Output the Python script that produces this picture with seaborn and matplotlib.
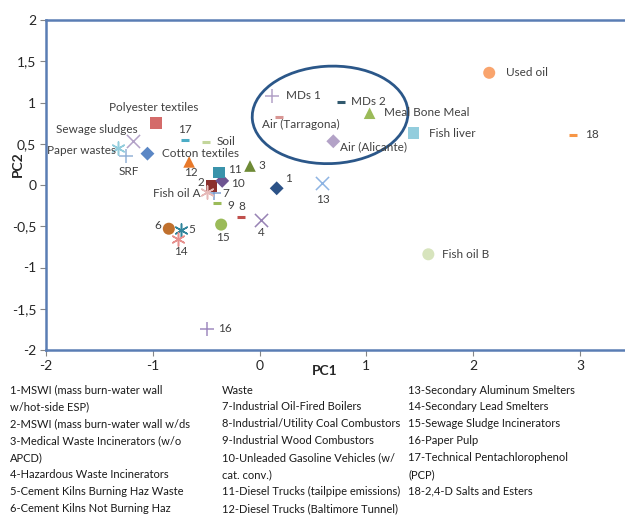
import matplotlib
matplotlib.use("Agg")
import matplotlib.pyplot as plt
from matplotlib.patches import Ellipse
from matplotlib.ticker import FuncFormatter, MultipleLocator
import seaborn as sns

sns.set_style("white")
plt.rcParams['font.family'] = ['Lato', 'DejaVu Sans']

# ---------------- data ----------------
names = ['Used oil', '18', 'Fish liver', 'Meal Bone Meal', 'MDs 2', 'MDs 1',
         'Air (Tarragona)', 'Air (Alicante)', 'Fish oil B', '13', '1', '4', '8',
         '15', '9', '7', '2', 'Fish oil A', '10', '11', '3', '12', 'Soil', '17',
         'Polyester textiles', 'Cotton textiles', 'SRF', 'Sewage sludges',
         'Paper wastes', '6', '5', '14', '16']
pc1 = [2.15, 2.93, 1.44, 1.03, 0.76, 0.12, 0.18, 0.69, 1.58, 0.58, 0.16, 0.01, -0.17,
       -0.36, -0.40, -0.43, -0.45, -0.49, -0.35, -0.38, -0.09, -0.66, -0.50, -0.70,
       -0.97, -1.05, -1.25, -1.19, -1.33, -0.85, -0.74, -0.76, -0.49]
pc2 = [1.36, 0.61, 0.63, 0.87, 1.01, 1.08, 0.82, 0.53, -0.84, 0.02, -0.04, -0.42, -0.39,
       -0.48, -0.22, -0.10, -0.01, -0.08, 0.05, 0.15, 0.23, 0.28, 0.52, 0.55,
       0.75, 0.38, 0.35, 0.53, 0.45, -0.53, -0.55, -0.65, -1.74]

ASTER = (6, 2, 0)
markers = ['o', '_', 's', '^', '_', '+', '_', 'D', 'o', 'x', 'D', 'x', '_',
           'o', '_', '+', 's', ASTER, 'D', 's', '^', '^', '_', '_',
           's', 'D', '+', 'x', ASTER, 'o', ASTER, ASTER, '+']
colors = ['#F9A46D', '#F79646', '#93CDDD', '#9BBB59', '#31596E', '#B3A2C7',
          '#D99694', '#B3A2C7', '#D7E4BD', '#8EB4E3', '#2C5287', '#9883B5', '#C0504D',
          '#9BBB59', '#9BBB59', '#7F9FD0', '#8B2F2D', '#E6B9B8', '#6E5491', '#3A93AB',
          '#6E8A36', '#E8792A', '#C3D69B', '#4BACC6',
          '#D46B6A', '#5B87C5', '#95B3D7', '#B3A2C7', '#93CDDD', '#C0702D', '#31859C',
          '#E6908E', '#A08CC0']

# label offsets (pixels) and alignment
label_dx = [17, 13, 16, 14, 10, 14, 22, 7, 14, 1, 8, 1, 0, 2, 10, 9, -7, -7, 9, 9, 8, 2,
            10, 0, -2, 15, 3, -36, -2, -8, 8, 2, 11]
label_dy = [0, 0, 0, 1, 0, 0, -7, -6, 0, -16, 10, -13, 11, -13, -2, 0, 3, -2, -3, 3,
            1, -11, 1, 10, 16, 0, -15, 12, -3, 3, 1, -13, 0]
label_ha = ['left', 'left', 'left', 'left', 'left', 'left', 'center', 'left', 'left',
            'center', 'left', 'center', 'center', 'center', 'left', 'left', 'right',
            'right', 'left', 'left', 'left', 'center', 'left', 'center', 'center',
            'left', 'center', 'center', 'right', 'right', 'left', 'center', 'left']

legend_col1 = ['1-MSWI (mass burn-water wall', 'w/hot-side ESP)',
               '2-MSWI (mass burn-water wall w/ds', '3-Medical Waste Incinerators (w/o',
               'APCD)', '4-Hazardous Waste Incinerators', '5-Cement Kilns Burning Haz Waste',
               '6-Cement Kilns Not Burning Haz']
legend_col2 = ['Waste', '7-Industrial Oil-Fired Boilers', '8-Industrial/Utility Coal Combustors',
               '9-Industrial Wood Combustors', '10-Unleaded Gasoline Vehicles (w/',
               'cat. conv.)', '11-Diesel Trucks (tailpipe emissions)',
               '12-Diesel Trucks (Baltimore Tunnel)']
legend_col3 = ['13-Secondary Aluminum Smelters', '14-Secondary Lead Smelters',
               '15-Sewage Sludge Incinerators', '16-Paper Pulp',
               '17-Technical Pentachlorophenol', '(PCP)', '18-2,4-D Salts and Esters']

# ---------------- figure ----------------
W, H = 625, 515
fig = plt.figure(figsize=(W / 100, H / 100), dpi=100)
ax = fig.add_axes([46 / W, 1 - 350 / H, (W - 46) / W, 330 / H])

for i in range(len(names)):
    m = markers[i]
    line_art = m in ('_', '+', 'x') or isinstance(m, tuple)
    if m == '_':
        size, lw = 38, 2.2
    elif line_art:
        size, lw = 90, 1.1
    elif m == 'o':
        size, lw = 75, 0
    elif m == 'D':
        size, lw = 50, 0
    else:
        size, lw = 70, 0
    if line_art:
        sns.scatterplot(x=[pc1[i]], y=[pc2[i]], marker=m, color=colors[i], s=size,
                        linewidth=lw, ax=ax, legend=False)
    else:
        sns.scatterplot(x=[pc1[i]], y=[pc2[i]], marker=m, color=colors[i], s=size,
                        edgecolor='none', ax=ax, legend=False)
    ax.annotate(names[i], (pc1[i], pc2[i]), xytext=(label_dx[i], label_dy[i]),
                textcoords='offset pixels', ha=label_ha[i], va='center',
                fontsize=8.5, color='#404040')

# circle round the MDs / air samples
ax.add_patch(Ellipse((0.66, 0.85), 1.46, 1.18, angle=5, fill=False,
                     edgecolor='#2B5789', linewidth=2))

ax.set_xlim(-2, -2 + 579 / 106.8)
ax.set_ylim(-2, 2)
ax.xaxis.set_major_locator(MultipleLocator(1))
ax.yaxis.set_major_locator(MultipleLocator(0.5))
fmt = FuncFormatter(lambda v, p: ('%g' % v).replace('.', ','))
ax.xaxis.set_major_formatter(fmt)
ax.yaxis.set_major_formatter(fmt)
ax.tick_params(axis='both', direction='out', length=4, width=0.8, color='#868686',
               labelsize=10, labelcolor='#262626', left=True, bottom=True, pad=3)
ax.set_xlabel('')
ax.set_ylabel('')
for s in ['left', 'top', 'bottom']:
    ax.spines[s].set_color('#5A7DB4')
    ax.spines[s].set_linewidth(1.8)
ax.spines['right'].set_visible(False)

fig.text(18 / W, 1 - 164 / H, 'PC2', rotation=90, fontsize=10, fontweight='bold',
         ha='center', va='center', color='#262626')
fig.text(325 / W, 1 - 371 / H, 'PC1', fontsize=10, fontweight='bold',
         ha='center', va='center', color='#262626')

for x0, col in [(10, legend_col1), (222, legend_col2), (408, legend_col3)]:
    for k, line in enumerate(col):
        fig.text(x0 / W, 1 - (390 + 16.9 * k) / H, line, fontsize=8, ha='left',
                 va='center', color='#1a1a1a')

fig.savefig('out.png', dpi=100)
